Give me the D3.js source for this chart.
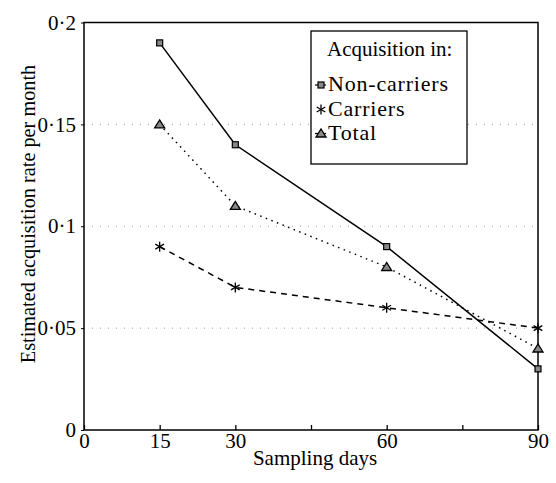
<!DOCTYPE html>
<html>
<head>
<meta charset="utf-8">
<script src="https://cdn.jsdelivr.net/npm/d3@7"></script>
<style>
  body { margin: 0; background: #fff; }
  svg text { font-family: "Liberation Serif", "DejaVu Serif", serif; fill: #000; }
</style>
</head>
<body>
<svg id="chart" width="556" height="483" font-family="Liberation Serif"></svg>
<script>
// data
var days = [15, 30, 60, 90];
var nonCarriers = [0.19, 0.14, 0.09, 0.03];
var carriers = [0.09, 0.07, 0.06, 0.05];
var total = [0.15, 0.11, 0.08, 0.04];

var xTicks = [0, 15, 30, 45, 60, 75, 90];
var xLabels = [0, 15, 30, 60, 90];
var yTicks = [0, 0.05, 0.1, 0.15, 0.2];
var gridValues = [0.05, 0.1, 0.15];

var legendTitle = 'Acquisition in:';
var seriesNames = ['Non-carriers', 'Carriers', 'Total'];

var fontSize = 21;
var svg = d3.select('#chart');

var x = d3.scaleLinear().domain([0, 90]).range([84, 538]);
var y = d3.scaleLinear().domain([0, 0.2]).range([430, 22.5]);

// dotted grid
svg.append('g')
  .selectAll('line')
  .data(gridValues)
  .join('line')
  .attr('x1', x(0))
  .attr('x2', x(90))
  .attr('y1', d => y(d))
  .attr('y2', d => y(d))
  .attr('stroke', '#999')
  .attr('stroke-width', 1)
  .attr('stroke-dasharray', '1,7');

// axes
var xAxis = d3.axisBottom(x)
  .tickValues(xTicks)
  .tickSize(-5)
  .tickPadding(3)
  .tickFormat(d => xLabels.includes(d) ? d : '');

var gx = svg.append('g')
  .attr('transform', 'translate(0,' + y(0) + ')')
  .call(xAxis)
  .attr('font-family', 'Liberation Serif');
gx.select('.domain').remove();
gx.selectAll('line').attr('stroke', '#000').attr('stroke-width', 1.3);
gx.selectAll('text').attr('font-size', fontSize);

var yAxis = d3.axisLeft(y)
  .tickValues(yTicks)
  .tickSize(3)
  .tickPadding(5)
  .tickFormat(d => d === 0 ? '0' : String(d).replace('.', '·'));

var gy = svg.append('g')
  .attr('transform', 'translate(' + x(0) + ',0)')
  .call(yAxis)
  .attr('font-family', 'Liberation Serif');
gy.select('.domain').remove();
gy.selectAll('line').attr('stroke', '#000');
gy.selectAll('text').attr('font-size', fontSize);

// frame
svg.append('rect')
  .attr('x', x(0))
  .attr('y', y(0.2))
  .attr('width', x(90) - x(0))
  .attr('height', y(0) - y(0.2))
  .attr('fill', 'none')
  .attr('stroke', '#000')
  .attr('stroke-width', 1.5);

// axis titles
svg.append('text')
  .attr('x', (x(0) + x(90)) / 2 + 4)
  .attr('y', 465)
  .attr('text-anchor', 'middle')
  .attr('font-size', fontSize)
  .text('Sampling days');

svg.append('text')
  .attr('transform', 'translate(35,214) rotate(-90)')
  .attr('text-anchor', 'middle')
  .attr('font-size', 20.3)
  .text('Estimated acquisition rate per month');

// markers
function drawMarker(g, kind, cx, cy) {
  if (kind === 0) {
    g.append('rect')
      .attr('x', cx - 3).attr('y', cy - 3)
      .attr('width', 6).attr('height', 6)
      .attr('fill', '#888').attr('stroke', '#000').attr('stroke-width', 1.2);
  } else if (kind === 1) {
    var r = 5;
    [90, 30, 150].forEach(a => {
      var rad = a * Math.PI / 180;
      g.append('line')
        .attr('x1', cx - r * Math.cos(rad)).attr('y1', cy - r * Math.sin(rad))
        .attr('x2', cx + r * Math.cos(rad)).attr('y2', cy + r * Math.sin(rad))
        .attr('stroke', '#000').attr('stroke-width', 1.3);
    });
  } else {
    g.append('path')
      .attr('d', 'M' + (cx - 5) + ',' + (cy + 3.5) + 'L' + cx + ',' + (cy - 4.5) + 'L' + (cx + 5) + ',' + (cy + 3.5) + 'Z')
      .attr('fill', '#888').attr('stroke', '#000').attr('stroke-width', 1.3);
  }
}

var seriesList = [nonCarriers, carriers, total];
var dashes = [null, '6,5', '1.5,4.5'];

var line = d3.line()
  .x((d, i) => x(days[i]))
  .y(d => y(d));

seriesList.forEach((vals, k) => {
  var g = svg.append('g');
  g.append('path')
    .attr('d', line(vals))
    .attr('fill', 'none')
    .attr('stroke', '#000')
    .attr('stroke-width', 1.5)
    .attr('stroke-dasharray', dashes[k]);
  vals.forEach((v, i) => drawMarker(g, k, x(days[i]), y(v)));
});

// legend
var legend = svg.append('g');
legend.append('rect')
  .attr('x', 311).attr('y', 31)
  .attr('width', 156).attr('height', 133)
  .attr('fill', '#fff')
  .attr('stroke', '#000')
  .attr('stroke-width', 1.3);

legend.append('text')
  .attr('x', 327).attr('y', 56)
  .attr('font-size', fontSize)
  .text(legendTitle);

var rowY = [91, 115.5, 139.5];
seriesNames.forEach((name, k) => {
  var item = legend.append('g');
  var cy = rowY[k] - 6;
  if (k !== 1) {
    item.append('line')
      .attr('x1', 315).attr('x2', 326)
      .attr('y1', cy).attr('y2', cy)
      .attr('stroke', '#000').attr('stroke-width', 1.2);
  }
  drawMarker(item, k, 321, cy);
  item.append('text')
    .attr('x', 328).attr('y', rowY[k])
    .attr('font-size', 22)
    .attr('letter-spacing', 0.8)
    .text(name);
});
</script>
</body>
</html>
